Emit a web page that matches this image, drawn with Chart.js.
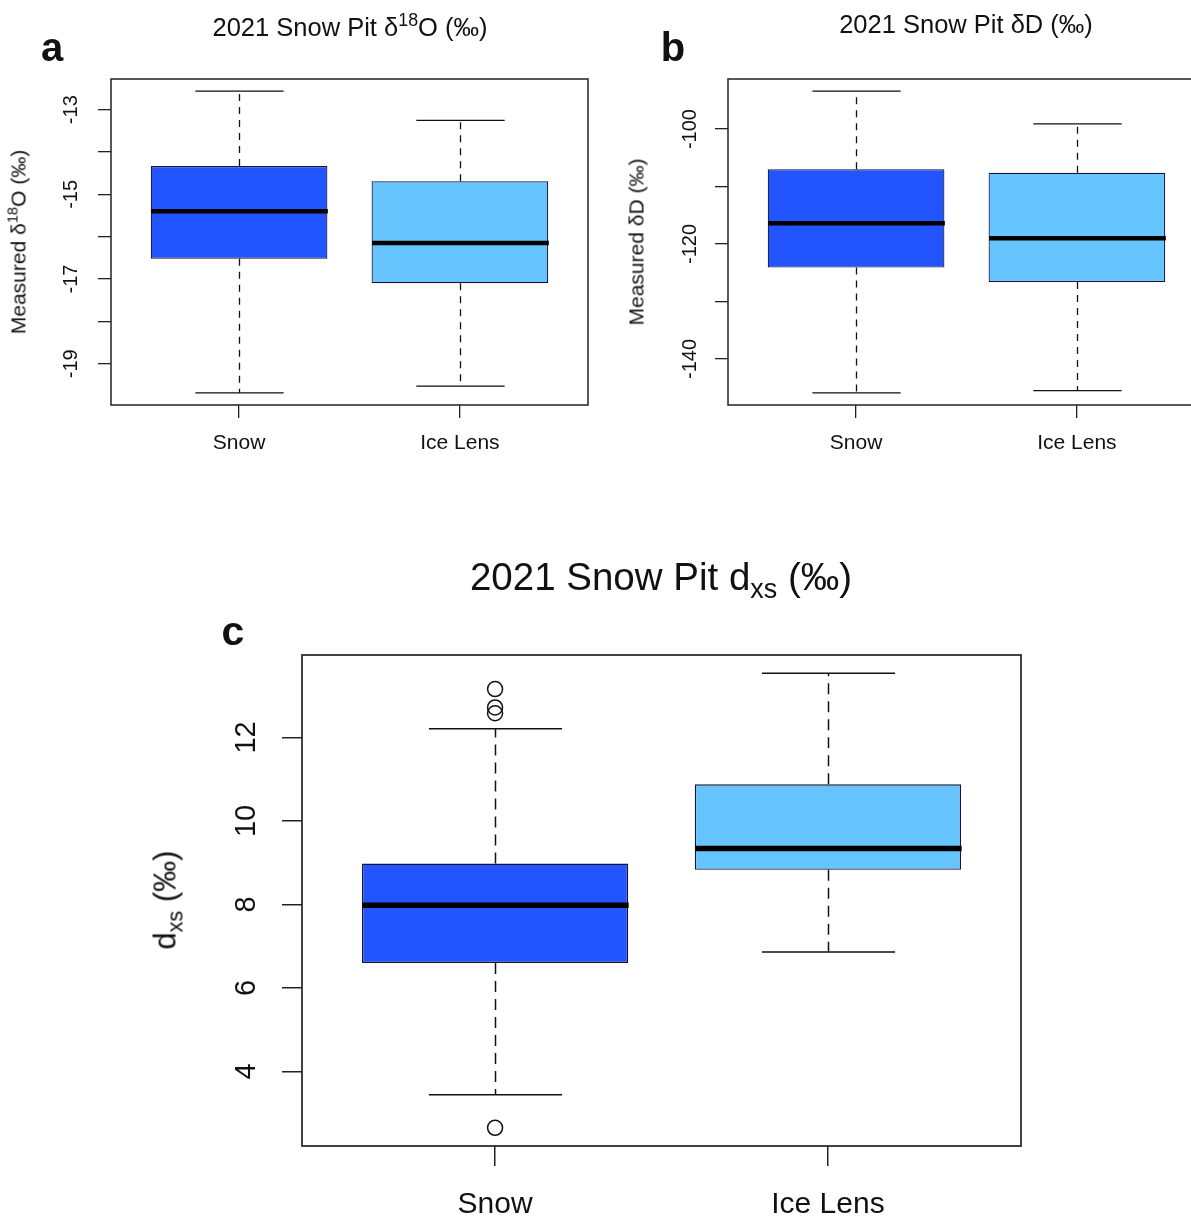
<!DOCTYPE html>
<html><head><meta charset="utf-8">
<script src="https://cdn.jsdelivr.net/npm/chart.js@4"></script>
<style>
html,body{margin:0;padding:0;background:#fff;overflow:hidden;width:1191px;height:1222px;}
body{position:relative;font-family:'Liberation Sans',Arial,sans-serif;color:#111;}
canvas{position:absolute;}
.t{position:absolute;white-space:nowrap;line-height:1;transform:translate(-50%,-50%);}
.t.r{transform:translate(-50%,-50%) rotate(-90deg);}
.sup{font-size:0.7em;position:relative;top:-0.55em;}
.sub{font-size:0.7em;position:relative;top:0.3em;}
.lt{font-weight:bold;}
</style></head><body>
<canvas id="ca" width="600" height="470" style="left:0;top:0"></canvas>
<canvas id="cb" width="605" height="470" style="left:600px;top:0"></canvas>
<canvas id="cc" width="1191" height="682" style="left:0;top:540px"></canvas>

<div class="t" style="left:350px;top:28px;font-size:25.5px">2021 Snow Pit δ<span class="sup">18</span>O (‰)</div>
<div class="t" style="left:966px;top:25px;font-size:25.5px">2021 Snow Pit δD (‰)</div>
<div class="t" style="left:661px;top:577px;font-size:38.5px">2021 Snow Pit d<span class="sub">xs</span> (‰)</div>
<div class="t lt" style="left:52px;top:47px;font-size:40px">a</div>
<div class="t lt" style="left:673px;top:47px;font-size:40px">b</div>
<div class="t lt" style="left:233px;top:631px;font-size:41px">c</div>
<div class="t r" style="left:18px;top:242px;font-size:21px">Measured δ<span class="sup">18</span>O (‰)</div>
<div class="t r" style="left:636px;top:242px;font-size:21px">Measured δD (‰)</div>
<div class="t r" style="left:165px;top:900px;font-size:31px">d<span class="sub">xs</span> (‰)</div>

<script>
// ---- categories ----
const groups = ['Snow', 'Ice Lens'];
const groupPos = [1, 2];
const fillColors = ['#2255FF', '#66C4FF'];

// ---- panel a: d18O ----
const d18O_low  = [-19.69, -19.53];
const d18O_q1   = [-16.52, -17.10];
const d18O_med  = [-15.40, -16.15];
const d18O_q3   = [-14.33, -14.69];
const d18O_high = [-12.56, -13.25];
const d18O_outX = [];
const d18O_outY = [];
const d18O_ticks = [-19, -18, -17, -16, -15, -14, -13];
const d18O_tickLabels = ['-19', '', '-17', '', '-15', '', '-13'];

// ---- panel b: dD ----
const dD_low  = [-145.9, -145.5];
const dD_q1   = [-124.1, -126.6];
const dD_med  = [-116.4, -119.0];
const dD_q3   = [-107.0, -107.6];
const dD_high = [-93.4, -99.1];
const dD_outX = [];
const dD_outY = [];
const dD_ticks = [-140, -130, -120, -110, -100];
const dD_tickLabels = ['-140', '', '-120', '', '-100'];

// ---- panel c: dxs ----
const dxs_low  = [3.44, 6.86];
const dxs_q1   = [6.60, 8.83];
const dxs_med  = [7.98, 9.34];
const dxs_q3   = [8.98, 10.88];
const dxs_high = [12.21, 13.54];
const dxs_outX = [1, 1, 1, 1];
const dxs_outY = [13.16, 12.72, 12.58, 2.65];
const dxs_ticks = [4, 6, 8, 10, 12];
const dxs_tickLabels = ['4', '6', '8', '10', '12'];

Chart.defaults.font.family = "'Liberation Sans', Arial, sans-serif";
Chart.defaults.color = '#111';

function boxPlugin(s, st) {
  return {
    id: 'boxWhisk',
    afterDatasetsDraw(chart) {
      const c = chart.ctx, xs = chart.scales.x, ys = chart.scales.y, a = chart.chartArea;
      const half = xs.getPixelForValue(1.4) - xs.getPixelForValue(1);
      const cap = half / 2;
      c.save();
      c.strokeStyle = '#111';
      groupPos.forEach((gx, i) => {
        const cx = Math.round(xs.getPixelForValue(gx)) + 0.5;
        c.lineWidth = st.lw;
        c.setLineDash(st.dash);
        c.beginPath();
        c.moveTo(cx, ys.getPixelForValue(s.q3[i])); c.lineTo(cx, ys.getPixelForValue(s.high[i]));
        c.moveTo(cx, ys.getPixelForValue(s.q1[i])); c.lineTo(cx, ys.getPixelForValue(s.low[i]));
        c.stroke();
        c.setLineDash([]);
        c.beginPath();
        const yh = ys.getPixelForValue(s.high[i]), yl = ys.getPixelForValue(s.low[i]);
        c.moveTo(cx - cap, yh); c.lineTo(cx + cap, yh);
        c.moveTo(cx - cap, yl); c.lineTo(cx + cap, yl);
        c.stroke();
        c.lineWidth = st.medW;
        c.strokeStyle = '#000';
        c.beginPath();
        const ym = ys.getPixelForValue(s.med[i]);
        c.moveTo(cx - half, ym); c.lineTo(cx + half, ym);
        c.stroke();
        c.strokeStyle = '#111';
      });
      c.lineWidth = st.frameW;
      c.strokeStyle = '#222';
      c.strokeRect(a.left, a.top, a.right - a.left, a.bottom - a.top);
      c.restore();
    }
  };
}

function makePanel(id, s, st) {
  const vals = s.low.concat(s.high, s.outY);
  const mn = Math.min(...vals), mx = Math.max(...vals);
  const ext = 0.04 * (mx - mn);
  const n = groups.length;
  return new Chart(document.getElementById(id), {
    type: 'bar',
    data: {
      datasets: [
        {
          type: 'bar',
          data: groupPos.map((x, i) => ({ x: x, y: [s.q1[i], s.q3[i]] })),
          backgroundColor: fillColors,
          borderColor: '#15153a',
          borderWidth: st.boxW,
          borderSkipped: false,
          categoryPercentage: 1,
          barPercentage: 0.8,
          order: 2
        },
        {
          type: 'scatter',
          data: s.outX.map((x, i) => ({ x: x, y: s.outY[i] })),
          pointRadius: st.ptR,
          pointBorderWidth: st.lw,
          pointBorderColor: '#111',
          pointBackgroundColor: 'rgba(0,0,0,0)',
          borderColor: '#111',
          backgroundColor: 'rgba(0,0,0,0)',
          pointStyle: 'circle',
          order: 1
        }
      ]
    },
    options: {
      responsive: false,
      animation: false,
      events: [],
      layout: { padding: { top: st.padTop, right: st.padRight, left: 0, bottom: 0 } },
      plugins: { legend: { display: false }, tooltip: { enabled: false }, title: { display: false } },
      scales: {
        x: {
          type: 'linear', min: 0.5 - 0.04 * n, max: n + 0.5 + 0.04 * n, bounds: 'data', offset: false,
          afterBuildTicks: sc => { sc.ticks = groupPos.map(v => ({ value: v })); },
          afterFit: sc => { sc.height = st.xH; },
          grid: { display: true, offset: false, drawOnChartArea: false, drawTicks: true, tickLength: st.tick, color: '#222', lineWidth: st.lw },
          border: { display: false },
          ticks: { padding: st.xPad, color: '#111', font: { size: st.xfs }, minRotation: 0, maxRotation: 0, autoSkip: false,
                   callback: (v, i) => groups[i] }
        },
        y: {
          type: 'linear', min: mn - ext, max: mx + ext, bounds: 'data',
          afterBuildTicks: sc => { sc.ticks = s.ticks.map(v => ({ value: v })); },
          afterFit: sc => { sc.width = st.yW; },
          grid: { display: true, drawOnChartArea: false, drawTicks: true, tickLength: st.tick, color: '#222', lineWidth: st.lw },
          border: { display: false },
          ticks: { padding: st.yPad, crossAlign: 'center', minRotation: 90, maxRotation: 90, autoSkip: false,
                   color: '#111', font: { size: st.fs }, callback: (v, i) => s.tickLabels[i] }
        }
      }
    },
    plugins: [boxPlugin(s, st)]
  });
}

const smallStyle = { fs: 20, xfs: 21, padTop: 79, padRight: 12, yW: 111, xH: 65, tick: 13, yPad: 12, xPad: 13,
                     medW: 4.5, dash: [7, 6], lw: 1.3, frameW: 1.5, boxW: 1.2, ptR: 6 };

makePanel('ca', { low: d18O_low, q1: d18O_q1, med: d18O_med, q3: d18O_q3, high: d18O_high,
                  outX: d18O_outX, outY: d18O_outY, ticks: d18O_ticks, tickLabels: d18O_tickLabels }, smallStyle);

makePanel('cb', { low: dD_low, q1: dD_q1, med: dD_med, q3: dD_q3, high: dD_high,
                  outX: dD_outX, outY: dD_outY, ticks: dD_ticks, tickLabels: dD_tickLabels },
          Object.assign({}, smallStyle, { yW: 128, padRight: 0, yPad: 5 }));

makePanel('cc', { low: dxs_low, q1: dxs_q1, med: dxs_med, q3: dxs_q3, high: dxs_high,
                  outX: dxs_outX, outY: dxs_outY, ticks: dxs_ticks, tickLabels: dxs_tickLabels },
          { fs: 29, xfs: 30, padTop: 115, padRight: 170, yW: 302, xH: 76, tick: 20, yPad: 19, xPad: 21,
            medW: 5.5, dash: [11, 7], lw: 1.5, frameW: 1.7, boxW: 1.4, ptR: 7.5 });
</script>
</body></html>
